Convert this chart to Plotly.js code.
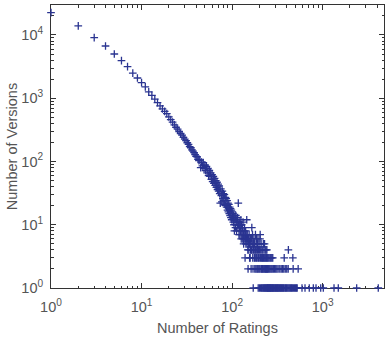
<!DOCTYPE html>
<html>
<head>
<meta charset="utf-8">
<script src="https://cdn.plot.ly/plotly-3.0.1.min.js"></script>
<style>html,body{margin:0;padding:0;background:#fff}#chart{width:385px;height:340px}</style>
</head>
<body>
<div id="chart"></div>
<script>
// Number of ratings (x) and number of versions having that many ratings (y)
var ratingsHead = [1,2,3,4,5,6,7,8,9,10,11,12,13,14,15,16,17,18,19,20,21,22,23,24,25,26,27,28,29,30,
  31,32,33,34,35,36,37,38,39,40,41,42,43,44,45,46,47,48,49,50,51,52,53,54,55,56,57,58,59,60,
  61,62,63,64,65,66,67,68,69,70,71,72,73,74,75,76,77,78,79,80,81,82,83,84,85,86,87,88,89,90,
  91,92,93,94,95,96,97,98,99,100];
var versionsHead = [22600,13900,9060,6700,5000,3930,3160,2500,2090,1760,1510,1260,1110,965,850,755,680,618,572,508,
  458,418,378,348,326,298,277,262,240,226,214,198,186,172,165,153,146,138,128,121,
  118,108,103,106,80,98,85,96,78,88,72,84,66,78,60,72,58,66,52,62,
  48,58,45,54,42,50,39,47,36,44,34,41,31,22,37,29,23,34,26,31,
  24,30,21,27,20,26,19,24,17,22,16,21,15,19,14,18,13,17,12,16];

var ratingsMid = [101,102,103,104,105,106,107,108,109,110,111,112,113,114,115,116,117,118,119,120,
  121,122,123,124,125,126,127,128,129,130,131,132,133,134,135,136,137,138,139,140,
  141,142,143,144,145,146,147,148,149,150,151,152,153,154,155,156,157,158,159,160,
  161,162,163,164,165,166,167,168,169,170,171,172,173,174,175,176,177,178,179,180,
  181,182,183,184,185,186,187,188,189,190,191,192,193,194,195,196,197,198,199,200,
  201,202,203,204,205,206,207,208,209,210,211,212,213,214,215,216,217,218,219,220,
  221,222,223,224,225,226,227,228,229,230,231,232,233,234,235,236,237,238,239,240,
  241,242,243,244,245];
var versionsMid = [13,15,11,14,10,8,13,12,9,14,11,8,12,10,13,9,22,10,7,11,
  9,7,10,8,12,6,10,8,7,9,6,11,7,5,8,6,9,7,3,6,
  8,5,7,6,12,5,7,6,4,2,5,6,4,7,5,3,5,3,6,4,
  5,2,6,4,9,4,5,7,3,2,1,4,5,6,4,3,5,2,4,3,
  7,4,2,5,3,6,4,2,3,5,4,2,6,1,3,4,2,5,3,1,
  4,2,6,7,3,1,4,2,5,3,1,2,4,3,1,2,3,4,1,2,
  5,3,1,2,4,3,1,5,2,3,1,4,2,1,3,2,4,1,3,2,
  1,4,2,3,1];

// Tail: ratings of versions in the rows with 1, 2, 3 and 4 versions
var tailOnes = [247,250,253,256,259,262,265,268,272,276,279,283,287,291,296,300,305,309,314,318,
  323,328,333,339,344,350,356,362,368,375,383,390,398,406,415,424,433,443,453,462,
  475,488,500,512,523,591,638,711,788,844,951,1016,1334,1487,2373,4109];
var tailTwos = [246,251,257,263,270,277,285,294,303,312,322,336,348,360,372,386,401,416,472,536];
var tailThrees = [248,254,261,267,274,281,376,468];
var tailFours = [418];

var xs = [], ys = [];
function add(xa, ya) { for (var i = 0; i < xa.length; i++) { xs.push(xa[i]); ys.push(ya[i]); } }
add(ratingsHead, versionsHead);
add(ratingsMid, versionsMid);
add(tailOnes, tailOnes.map(function(){return 1;}));
add(tailTwos, tailTwos.map(function(){return 2;}));
add(tailThrees, tailThrees.map(function(){return 3;}));
add(tailFours, tailFours.map(function(){return 4;}));

var xTickVals = [1, 10, 100, 1000];
var xTickText = ['10<sup>0</sup>', '10<sup>1</sup>', '10<sup>2</sup>', '10<sup>3</sup>'];
var yTickVals = [1, 10, 100, 1000, 10000];
var yTickText = ['10<sup>0</sup>', '10<sup>1</sup>', '10<sup>2</sup>', '10<sup>3</sup>', '10<sup>4</sup>'];

function minorVals(maxDec) {
  var v = [];
  for (var d = 0; d <= maxDec; d++) for (var m = 2; m <= 9; m++) v.push(m * Math.pow(10, d));
  return v;
}

var markerColor = 'rgb(42,52,145)';
var axisColor = '#333333';
var textColor = '#555555';
var fontFam = '"Liberation Sans", Arial, Helvetica, sans-serif';

var trace = {
  x: xs, y: ys, type: 'scatter', mode: 'markers', cliponaxis: false,
  marker: {symbol: 'cross-thin-open', size: 5.5, color: markerColor, line: {color: markerColor, width: 1.3}},
  hoverinfo: 'x+y'
};

var axisCommon = {
  type: 'log', showgrid: false, zeroline: false, showline: true, linecolor: axisColor, linewidth: 1,
  mirror: 'ticks', ticks: 'inside', ticklen: 5, tickwidth: 1, tickcolor: axisColor,
  tickmode: 'array', tickfont: {family: fontFam, size: 14.5, color: textColor},
  layer: 'below traces'
};

var layout = {
  width: 385, height: 340,
  margin: {l: 51, r: 1, t: 5, b: 52},
  paper_bgcolor: '#ffffff', plot_bgcolor: '#ffffff',
  showlegend: false,
  font: {family: fontFam, color: textColor},
  xaxis: Object.assign({}, axisCommon, {
    range: [0, 3.677], tickvals: xTickVals, ticktext: xTickText,
    ticklabelstandoff: 6,
    minor: {ticks: 'inside', ticklen: 2.5, tickcolor: axisColor, tickmode: 'array', tickvals: minorVals(3), showgrid: false},
    title: {text: 'Number of Ratings', font: {family: fontFam, size: 14.5, color: textColor}, standoff: 8}
  }),
  yaxis: Object.assign({}, axisCommon, {
    range: [0, 4.474], tickvals: yTickVals, ticktext: yTickText,
    minor: {ticks: 'inside', ticklen: 2.5, tickcolor: axisColor, tickmode: 'array', tickvals: minorVals(4), showgrid: false},
    ticklabelstandoff: 4,
    title: {text: 'Number of Versions', font: {family: fontFam, size: 14.5, color: textColor}, standoff: 0}
  })
};

Plotly.newPlot('chart', [trace], layout, {displayModeBar: false, staticPlot: true});
</script>
</body>
</html>
